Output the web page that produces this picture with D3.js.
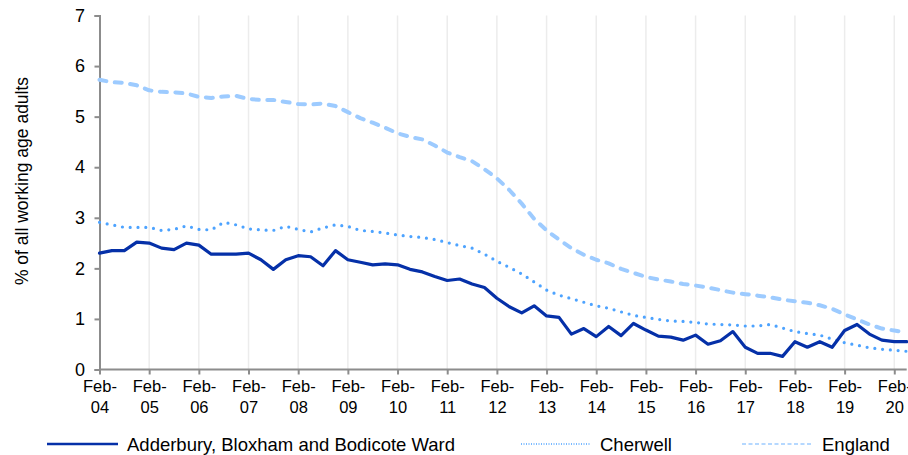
<!DOCTYPE html>
<html><head><meta charset="utf-8">
<script src="https://cdn.jsdelivr.net/npm/d3@7"></script>
<style>
body{margin:0;background:#fff;}
text{font-family:"Liberation Sans",Arial,sans-serif;fill:#000;}
</style></head>
<body><svg id="c" width="908" height="455"></svg>
<script>
// quarterly, Feb-04 .. May-20
const tickLabels = ["Feb-04","Feb-05","Feb-06","Feb-07","Feb-08","Feb-09","Feb-10","Feb-11","Feb-12","Feb-13","Feb-14","Feb-15","Feb-16","Feb-17","Feb-18","Feb-19","Feb-20"];
const ward = [2.30,2.35,2.35,2.52,2.50,2.40,2.37,2.50,2.46,2.28,2.28,2.28,2.30,2.17,1.98,2.17,2.25,2.23,2.05,2.35,
  2.17,2.12,2.07,2.09,2.07,1.98,1.93,1.84,1.76,1.79,1.69,1.62,1.41,1.24,1.12,1.26,1.06,1.03,0.70,0.81,
  0.65,0.85,0.67,0.91,0.78,0.66,0.64,0.58,0.68,0.50,0.57,0.75,0.44,0.32,0.32,0.26,0.55,0.44,0.55,0.44,
  0.77,0.89,0.70,0.58,0.55,0.55];
const cherwell = [2.91,2.86,2.81,2.81,2.81,2.75,2.77,2.84,2.77,2.76,2.91,2.86,2.78,2.76,2.75,2.83,2.77,2.72,2.80,2.86,
  2.83,2.75,2.73,2.70,2.66,2.63,2.61,2.57,2.51,2.45,2.40,2.28,2.14,2.02,1.89,1.73,1.57,1.47,1.40,1.33,
  1.26,1.21,1.14,1.07,1.03,0.99,0.96,0.95,0.93,0.90,0.89,0.88,0.86,0.86,0.89,0.82,0.75,0.71,0.68,0.60,
  0.53,0.48,0.43,0.40,0.38,0.36];
const england = [5.73,5.68,5.67,5.62,5.52,5.49,5.48,5.46,5.39,5.37,5.40,5.41,5.35,5.33,5.33,5.29,5.25,5.24,5.26,5.21,
  5.09,4.97,4.88,4.78,4.67,4.60,4.55,4.43,4.29,4.20,4.12,3.96,3.78,3.55,3.28,2.98,2.75,2.57,2.40,2.27,
  2.17,2.10,1.99,1.91,1.83,1.78,1.74,1.69,1.66,1.62,1.57,1.52,1.49,1.46,1.43,1.38,1.35,1.32,1.27,1.20,
  1.09,0.99,0.89,0.81,0.77,0.73];
const seriesNames = ["Adderbury, Bloxham and Bodicote Ward","Cherwell","England"];
const yTicks = [0,1,2,3,4,5,6,7];

const svg = d3.select("#c");
const x = d3.scaleLinear().domain([0, ward.length-1]).range([99.5, 906.7]);
const y = d3.scaleLinear().domain([0,7]).range([369.5, 15.5]);

// vertical gridlines
const tickIdx = tickLabels.map((d,i)=>i*4);
svg.append("g").selectAll("line").data(tickIdx.slice(1)).join("line")
  .attr("x1",d=>x(d)).attr("x2",d=>x(d)).attr("y1",y(7)).attr("y2",y(0))
  .attr("stroke","#ececec").attr("stroke-width",1.5);

// y axis
const gy = svg.append("g").attr("transform","translate(99.5,0)")
  .call(d3.axisLeft(y).tickValues(yTicks).tickSize(5).tickPadding(9.5).tickFormat(d3.format("d")));
gy.select(".domain").attr("stroke","#8c8c8c").attr("stroke-width",2);
gy.selectAll(".tick line").attr("stroke","#8c8c8c").attr("stroke-width",2);
gy.selectAll("text").attr("font-size",18).attr("fill","#000");

// x axis
const gx = svg.append("g").attr("transform","translate(0,369.5)")
  .call(d3.axisBottom(x).tickValues(tickIdx).tickSize(5).tickFormat(""));
gx.select(".domain").attr("stroke","#8c8c8c").attr("stroke-width",2).attr("d",`M99.5,0H906.7`);
gx.selectAll(".tick line").attr("stroke","#8c8c8c").attr("stroke-width",2);
const lbl = gx.selectAll(".tick").append("text").attr("font-size",16.5).attr("text-anchor","middle").attr("fill","#000");
lbl.append("tspan").attr("x",0).attr("y",22).text((d,i)=>tickLabels[i].split("-")[0]+"-");
lbl.append("tspan").attr("x",0).attr("y",43).text((d,i)=>tickLabels[i].split("-")[1]);

// axis title
svg.append("text").attr("transform","translate(28,181) rotate(-90)")
  .attr("text-anchor","middle").attr("font-size",17.5).text("% of all working age adults");

const line = d3.line().x((d,i)=>x(i)).y(d=>y(d));
const styles = [
  {data:ward, color:"#0530a8", w:3.2, dash:null, cap:"round"},
  {data:cherwell, color:"#4da3ff", w:3.2, dash:"0 7.8", cap:"round"},
  {data:england, color:"#9dcbff", w:4, dash:"7 8.5", cap:"round"}
];
[2,1,0].forEach(k=>{
  const s = styles[k];
  svg.append("path").datum(s.data).attr("d",line).attr("fill","none")
    .attr("stroke",s.color).attr("stroke-width",s.w).attr("stroke-linejoin","round")
    .attr("stroke-linecap",s.cap).attr("stroke-dasharray",s.dash);
});

// legend
const leg = [
  {x1:47,x2:118,tx:127},
  {x1:521,x2:591,tx:600},
  {x1:742,x2:811,tx:822}
];
leg.forEach((l,k)=>{
  const s = styles[k];
  svg.append("line").attr("x1",l.x1).attr("x2",l.x2).attr("y1",444).attr("y2",444)
    .attr("stroke",s.color).attr("stroke-width",k===0?2.5:1.5)
    .attr("stroke-dasharray",k===0?null:(k===1?"1 1.5":"4 2.5"));
  svg.append("text").attr("x",l.tx).attr("y",451).attr("font-size",18.5).text(seriesNames[k]);
});
</script></body></html>
